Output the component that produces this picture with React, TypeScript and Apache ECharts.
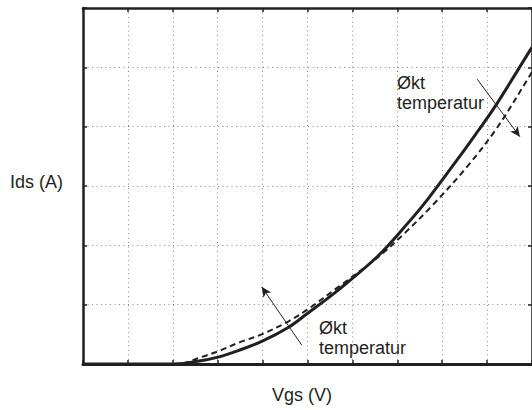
import React, { useEffect, useRef } from "react";
import * as echarts from "echarts";

// Solid curve (reference temperature)
const solidVgs = [0, 2.04, 2.59, 3.03, 3.47, 3.98, 4.58, 4.96, 5.69, 6.57, 7.23, 7.68, 8.41, 8.78, 9.16, 9.96, 10];
const solidIds = [0, 0, 0.05, 0.12, 0.23, 0.38, 0.62, 0.83, 1.25, 1.82, 2.37, 2.78, 3.52, 3.91, 4.32, 5.29, 5.34];

// Dashed curve (increased temperature)
const dashedVgs = [0, 2.1, 2.65, 3.03, 3.47, 3.98, 4.58, 5.02, 5.69, 6.57, 7.17, 7.79, 8.56, 9.23, 9.96, 10];
const dashedIds = [0, 0, 0.12, 0.22, 0.36, 0.5, 0.72, 0.93, 1.3, 1.8, 2.21, 2.68, 3.33, 3.99, 4.87, 4.92];

// Annotation arrows in data units: [fromX, fromY, toX, toY]
const upperArrow = [8.78, 4.8, 9.73, 3.83];
const lowerArrow = [4.87, 0.32, 3.98, 1.3];

const xLabel = "Vgs (V)";
const yLabel = "Ids (A)";
const noteText = ["Økt", "temperatur"];

const INK = "#231f20";
const FONT = 'Arial, "Liberation Sans", sans-serif';

export default function App() {
  const ref = useRef<HTMLDivElement>(null);

  useEffect(() => {
    if (!ref.current) return;
    const chart = echarts.init(ref.current, undefined, { renderer: "svg" });

    const solid = solidVgs.map((x, i) => [x, solidIds[i]]);
    const dashed = dashedVgs.map((x, i) => [x, dashedIds[i]]);

    const arrowLine = (a: number[]) => [
      { coord: [a[0], a[1]], symbol: "none" },
      { coord: [a[2], a[3]], symbol: "arrow" },
    ];

    const splitStyle = { color: "#8a8a8a", type: [1, 3.5] as any, width: 1 };

    chart.setOption({
      animation: false,
      grid: { left: 83, top: 8, right: -3, bottom: 46, containLabel: false },
      xAxis: [
        {
          type: "value",
          min: 0,
          max: 10,
          interval: 1,
          position: "bottom",
          axisLine: { show: true, onZero: false, lineStyle: { color: INK, width: 3 } },
          axisTick: { show: true, inside: true, length: 4, lineStyle: { color: INK, width: 1.5 } },
          axisLabel: { show: false },
          splitLine: { show: true, lineStyle: splitStyle },
        },
        {
          type: "value",
          min: 0,
          max: 10,
          interval: 1,
          position: "top",
          axisLine: { show: true, onZero: false, lineStyle: { color: INK, width: 2.5 } },
          axisTick: { show: true, inside: true, length: 4, lineStyle: { color: INK, width: 1.5 } },
          axisLabel: { show: false },
          splitLine: { show: false },
        },
      ],
      yAxis: [
        {
          type: "value",
          min: 0,
          max: 6,
          interval: 1,
          position: "left",
          axisLine: { show: true, onZero: false, lineStyle: { color: INK, width: 2.5 } },
          axisTick: { show: true, inside: true, length: 4, lineStyle: { color: INK, width: 1.5 } },
          axisLabel: { show: false },
          splitLine: { show: true, lineStyle: splitStyle },
        },
        {
          type: "value",
          min: 0,
          max: 6,
          interval: 1,
          position: "right",
          axisLine: { show: true, onZero: false, lineStyle: { color: INK, width: 2.5 } },
          axisTick: { show: true, inside: true, length: 4, lineStyle: { color: INK, width: 1.5 } },
          axisLabel: { show: false },
          splitLine: { show: false },
        },
      ],
      series: [
        {
          type: "line",
          xAxisIndex: 0,
          yAxisIndex: 0,
          data: dashed,
          showSymbol: false,
          smooth: 0.35,
          lineStyle: { color: INK, width: 2, type: [6, 4] as any },
          z: 3,
        },
        {
          type: "line",
          xAxisIndex: 0,
          yAxisIndex: 0,
          data: solid,
          showSymbol: false,
          smooth: 0.35,
          lineStyle: { color: INK, width: 3 },
          z: 4,
          markLine: {
            silent: true,
            symbolSize: [7, 10],
            label: { show: false },
            lineStyle: { color: INK, width: 1, type: "solid" },
            data: [arrowLine(upperArrow), arrowLine(lowerArrow)] as any,
          },
        },
      ],
      graphic: [
        {
          type: "text",
          left: 10,
          top: 173,
          style: { text: yLabel, font: `18px ${FONT}`, fill: INK },
        },
        {
          type: "text",
          left: 272,
          top: 386,
          style: { text: xLabel, font: `18px ${FONT}`, fill: INK },
        },
        {
          type: "text",
          x: 397,
          y: 73,
          style: { text: noteText.join("\n"), font: `18px ${FONT}`, lineHeight: 20, fill: INK, verticalAlign: "top" },
        },
        {
          type: "text",
          x: 319,
          y: 318,
          style: { text: noteText.join("\n"), font: `18px ${FONT}`, lineHeight: 20, fill: INK, verticalAlign: "top" },
        },
      ],
    });

    return () => chart.dispose();
  }, []);

  return (
    <div
      ref={ref}
      style={{ position: "fixed", left: 0, top: 0, width: 532, height: 410, background: "#fff" }}
    />
  );
}
